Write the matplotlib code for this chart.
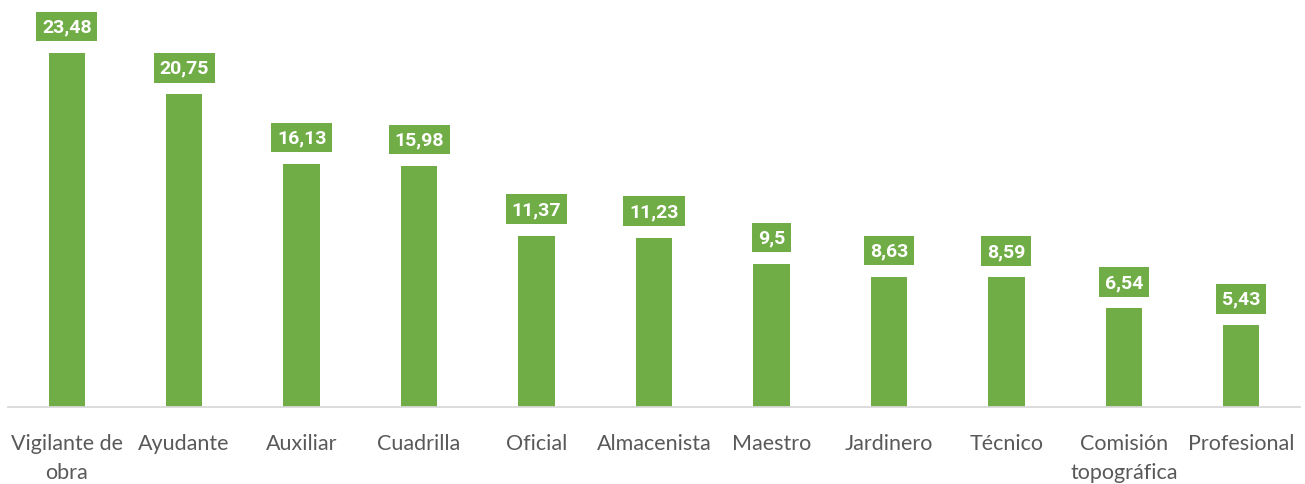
import matplotlib
matplotlib.use('Agg')
import matplotlib.pyplot as plt

# datos
categorias = ['Vigilante de\nobra', 'Ayudante', 'Auxiliar', 'Cuadrilla', 'Oficial',
              'Almacenista', 'Maestro', 'Jardinero', 'Técnico', 'Comisión\ntopográfica',
              'Profesional']
valores = [23.48, 20.75, 16.13, 15.98, 11.37, 11.23, 9.5, 8.63, 8.59, 6.54, 5.43]
etiquetas = ['23,48', '20,75', '16,13', '15,98', '11,37', '11,23', '9,5', '8,63',
             '8,59', '6,54', '5,43']

verde = '#70AD47'
gris = '#595959'

fig = plt.figure(figsize=(13.05, 4.85), dpi=100)
ax = fig.add_axes([8/1305, 77/485, 1292/1305, 408/485])

x = range(len(valores))
ax.bar(x, valores, width=0.31, color=verde)

# etiquetas de datos en cajas verdes
for xi, v, t in zip(x, valores, etiquetas):
    ax.annotate(t, (xi, v), xytext=(0, 19), textcoords='offset points',
                ha='center', va='center', color='white', fontsize=14,
                fontweight='bold', family='Roboto',
                bbox=dict(boxstyle='square,pad=0.3', fc=verde, ec='none'))

ax.set_xlim(-0.5, len(valores) - 0.5)
ax.set_ylim(0, 408/15.08)
ax.set_xticks(list(x))
ax.set_xticklabels(categorias, fontsize=15.5, color=gris, family='Lato',
                   linespacing=1.55)
ax.tick_params(axis='x', length=0, pad=19)
ax.set_yticks([])
for s in ['top', 'right', 'left']:
    ax.spines[s].set_visible(False)
ax.spines['bottom'].set_color('#d9d9d9')
ax.spines['bottom'].set_linewidth(1.3)

fig.savefig('out.png', dpi=100)
